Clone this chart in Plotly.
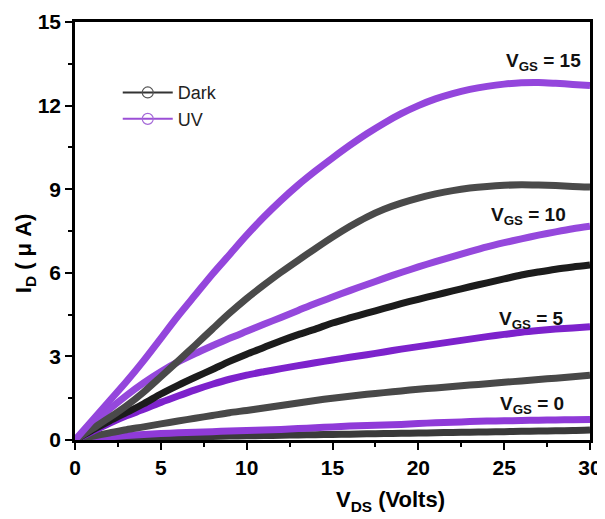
import plotly.graph_objects as go

vds = list(range(0, 31))

dark_0 = [0, 0.02, 0.04, 0.06, 0.08, 0.10, 0.11, 0.12, 0.13, 0.14, 0.15, 0.16, 0.17, 0.18, 0.19, 0.20,
          0.21, 0.22, 0.23, 0.24, 0.25, 0.26, 0.27, 0.28, 0.29, 0.30, 0.31, 0.32, 0.33, 0.34, 0.36]
uv_0 = [0, 0.06, 0.11, 0.16, 0.20, 0.23, 0.26, 0.28, 0.30, 0.32, 0.34, 0.36, 0.38, 0.41, 0.44, 0.47,
        0.50, 0.52, 0.54, 0.56, 0.59, 0.62, 0.64, 0.66, 0.68, 0.69, 0.70, 0.71, 0.72, 0.73, 0.74]
dark_5 = [0, 0.13, 0.25, 0.37, 0.47, 0.58, 0.68, 0.78, 0.88, 0.98, 1.06, 1.15, 1.24, 1.33, 1.42, 1.50,
          1.57, 1.64, 1.70, 1.76, 1.82, 1.87, 1.92, 1.97, 2.02, 2.07, 2.12, 2.17, 2.22, 2.27, 2.32]
uv_5 = [0, 0.30, 0.60, 0.87, 1.10, 1.35, 1.58, 1.80, 2.00, 2.18, 2.33, 2.45, 2.56, 2.67, 2.77, 2.87,
        2.97, 3.06, 3.16, 3.26, 3.35, 3.44, 3.53, 3.62, 3.71, 3.79, 3.87, 3.93, 3.98, 4.02, 4.06]
dark_10 = [0, 0.35, 0.68, 0.99, 1.30, 1.65, 1.96, 2.25, 2.53, 2.82, 3.08, 3.32, 3.56, 3.78, 3.98, 4.20,
           4.38, 4.55, 4.72, 4.89, 5.05, 5.20, 5.35, 5.50, 5.64, 5.78, 5.92, 6.03, 6.13, 6.21, 6.28]
uv_10 = [0, 0.55, 1.10, 1.60, 2.05, 2.45, 2.80, 3.10, 3.38, 3.65, 3.90, 4.15, 4.40, 4.65, 4.90, 5.13,
         5.36, 5.58, 5.80, 6.01, 6.21, 6.40, 6.58, 6.76, 6.93, 7.08, 7.22, 7.35, 7.47, 7.58, 7.67]
dark_15 = [0, 0.40, 0.80, 1.23, 1.72, 2.27, 2.83, 3.40, 3.98, 4.55, 5.08, 5.56, 6.02, 6.45, 6.87, 7.28,
           7.66, 8.00, 8.28, 8.50, 8.68, 8.83, 8.95, 9.04, 9.10, 9.14, 9.16, 9.15, 9.13, 9.10, 9.08]
uv_15 = [0, 0.70, 1.40, 2.10, 2.85, 3.65, 4.45, 5.20, 5.95, 6.65, 7.35, 8.00, 8.60, 9.15, 9.65, 10.12,
         10.57, 10.99, 11.37, 11.71, 12.00, 12.24, 12.43, 12.58, 12.69, 12.77, 12.82, 12.83, 12.80, 12.76, 12.72]

x_ticks = [0, 5, 10, 15, 20, 25, 30]
y_ticks = [0, 3, 6, 9, 12, 15]
vgs_labels = ["V<sub>GS</sub> = 15", "V<sub>GS</sub> = 10", "V<sub>GS</sub> = 5", "V<sub>GS</sub> = 0"]
label_x = [27.3, 26.4, 26.6, 26.6]
label_y = [13.55, 8.05, 4.3, 1.25]

FONT = "Liberation Sans, Arial, sans-serif"

fig = go.Figure()

series = [
    (dark_0, "#3a3a3a"), (uv_0, "#8f3ad8"),
    (dark_5, "#484848"), (uv_5, "#7d22cc"),
    (dark_10, "#1c1c1c"), (uv_10, "#9548dc"),
    (dark_15, "#4a4a4a"), (uv_15, "#9446dc"),
]
for ys, col in series:
    fig.add_trace(go.Scatter(x=vds, y=ys, mode="lines",
                             line=dict(color=col, width=7, shape="spline", smoothing=0.8),
                             showlegend=False, hoverinfo="skip"))

# legend entries
fig.add_trace(go.Scatter(x=[None], y=[None], mode="lines+markers", name="Dark",
                         line=dict(color="#333333", width=2),
                         marker=dict(symbol="circle-open", size=11, color="#555555", line=dict(width=1.2))))
fig.add_trace(go.Scatter(x=[None], y=[None], mode="lines+markers", name="UV",
                         line=dict(color="#9b4fd6", width=2),
                         marker=dict(symbol="circle-open", size=11, color="#a56ad8", line=dict(width=1.2))))

for t, xx, yy in zip(vgs_labels, label_x, label_y):
    fig.add_annotation(x=xx, y=yy, text="<b>" + t + "</b>", showarrow=False,
                       font=dict(family=FONT, size=19, color="#111111"))

# axis titles (placed as in the reference)
fig.add_annotation(xref="paper", yref="paper", x=0.612, y=-0.145, xanchor="center", yanchor="middle",
                   text="<b>V<sub>DS</sub> (Volts)</b>",
                   showarrow=False, font=dict(family=FONT, size=22, color="black"))
fig.add_annotation(xref="paper", yref="paper", x=-0.097, y=0.447, xanchor="center", yanchor="middle",
                   text="<b>I<sub>D</sub> ( μ A)</b>",
                   textangle=-90, showarrow=False, font=dict(family=FONT, size=22, color="black"))

axis_common = dict(
    showline=True, linecolor="black", linewidth=2.5, mirror=True,
    ticks="outside", ticklen=7, tickwidth=2, tickcolor="black",
    showgrid=False, zeroline=False, automargin=False,
    tickfont=dict(family=FONT, size=21, color="black"),
)

fig.update_xaxes(range=[0, 30], tickvals=x_ticks, ticktext=["<b>%d</b>" % v for v in x_ticks], **axis_common,
                 minor=dict(dtick=2.5, ticks="outside", ticklen=4, tickwidth=1.5, tickcolor="black"))
fig.update_yaxes(range=[0, 15], tickvals=y_ticks, ticktext=["<b>%d</b>" % v for v in y_ticks], **axis_common,
                 minor=dict(dtick=1.5, ticks="outside", ticklen=4, tickwidth=1.5, tickcolor="black"))

# page body has an 8px margin, so the figure is sized/offset to compensate
fig.update_layout(
    width=597, height=511,
    margin=dict(l=67, r=15, t=14, b=79),
    plot_bgcolor="white", paper_bgcolor="white",
    font=dict(family=FONT),
    legend=dict(x=0.083, y=0.875, xanchor="left", yanchor="top",
                font=dict(family=FONT, size=18, color="#222222"),
                bgcolor="rgba(0,0,0,0)", tracegroupgap=0, itemwidth=50),
)

fig.write_html("out.html")
